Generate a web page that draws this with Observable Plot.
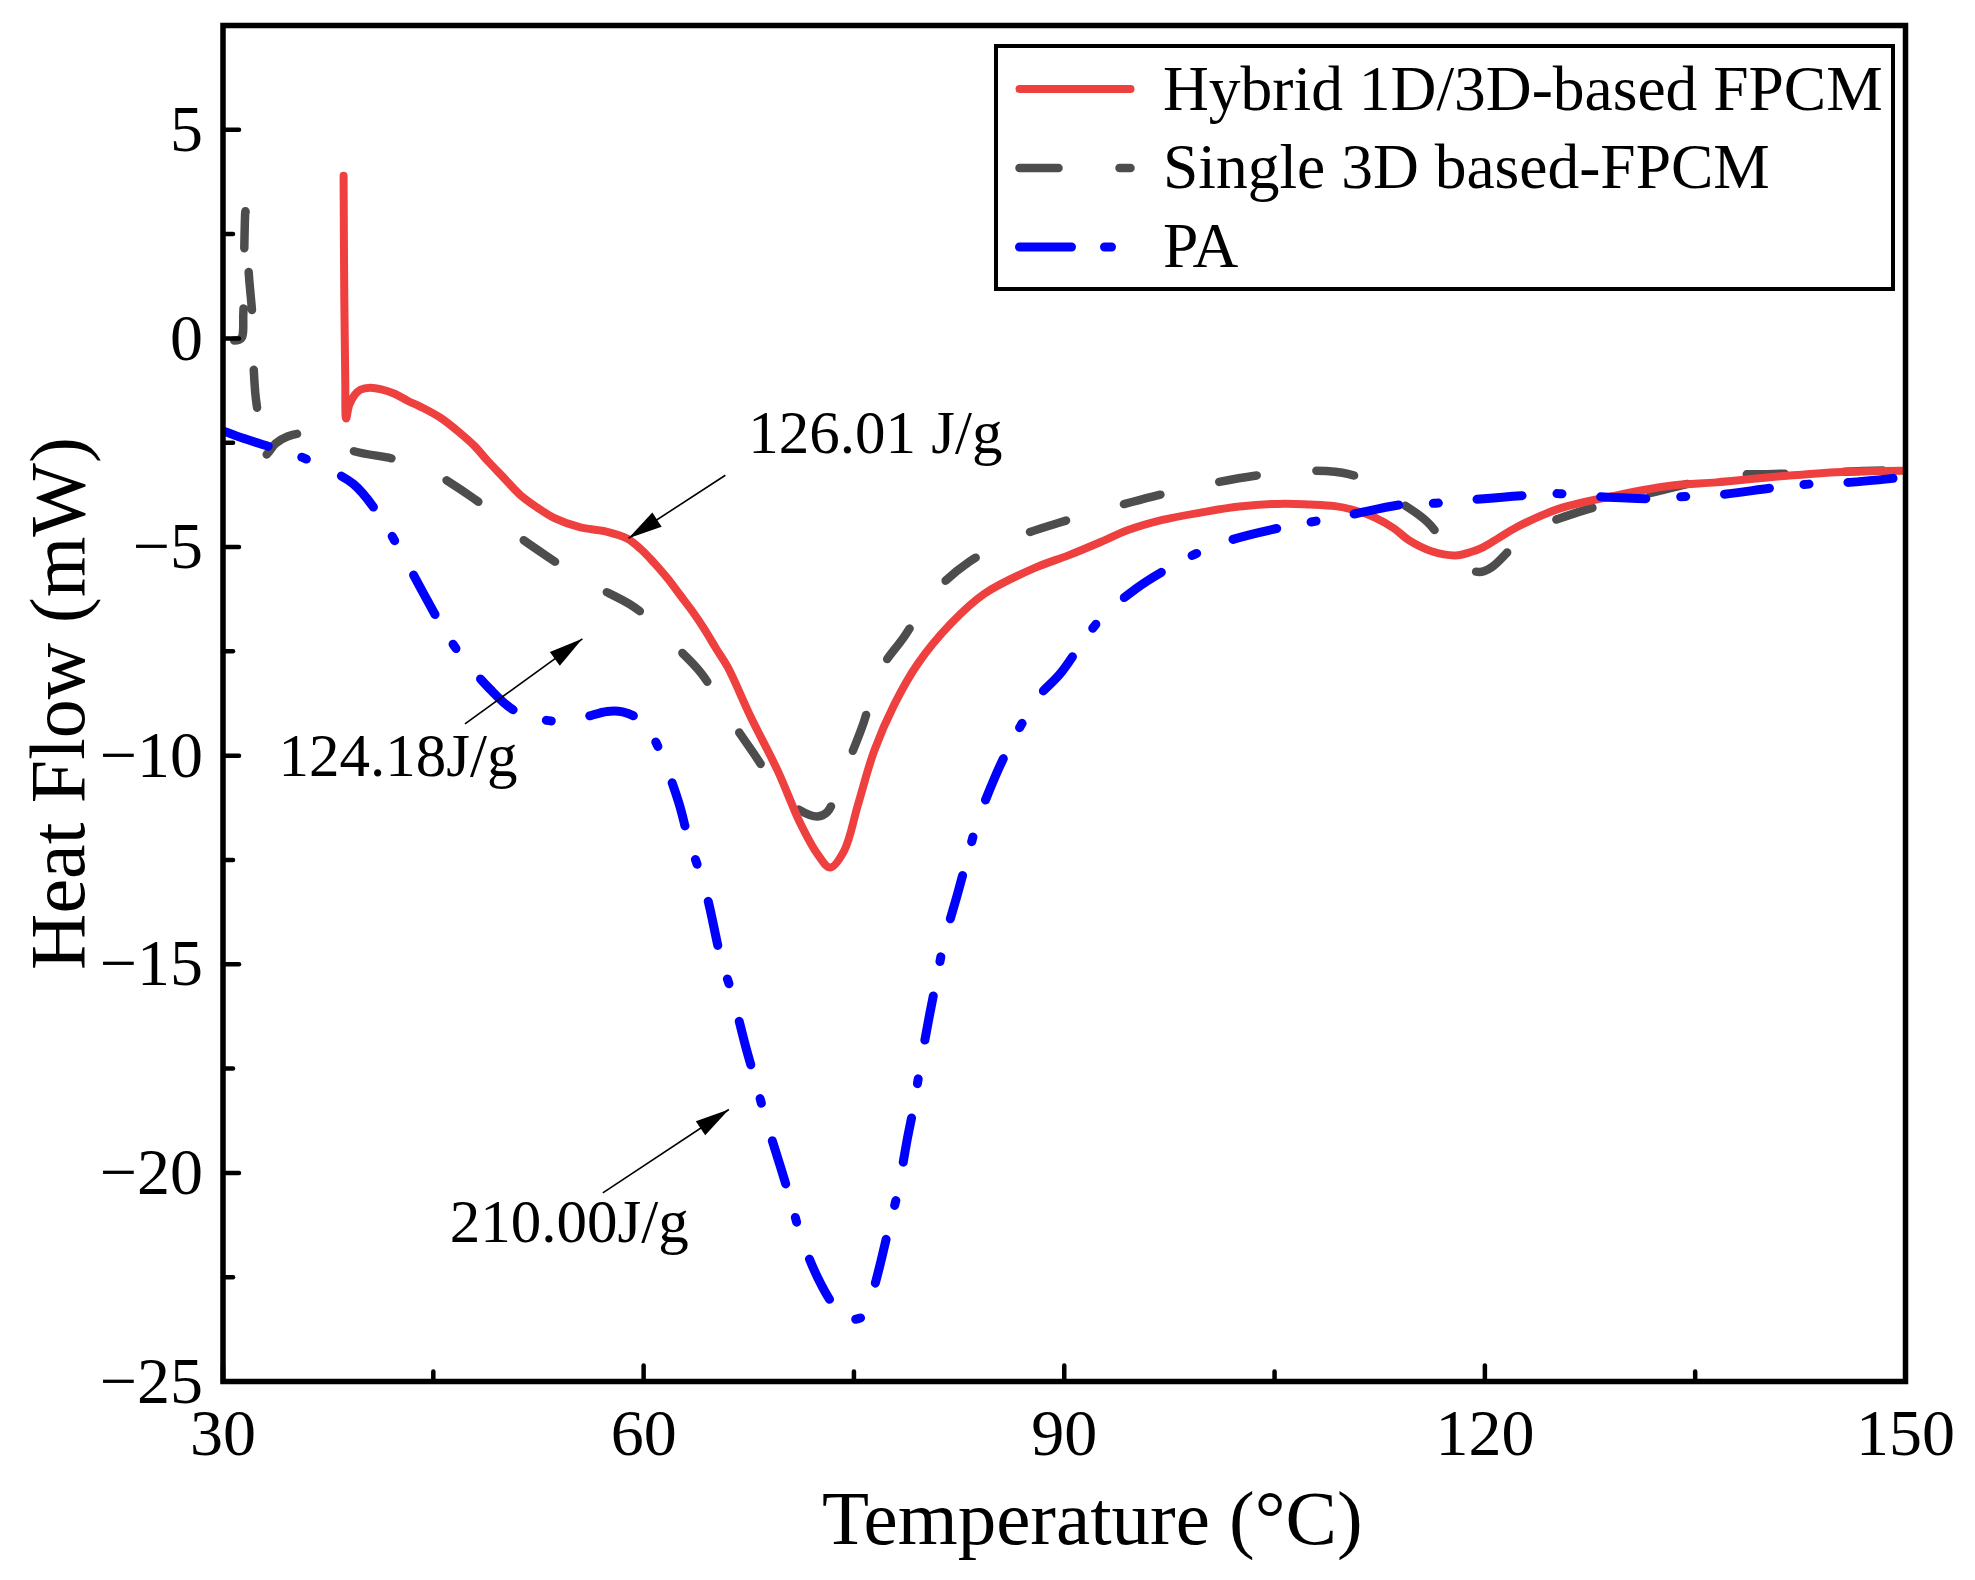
<!DOCTYPE html>
<html>
<head>
<meta charset="utf-8">
<script src="https://cdn.jsdelivr.net/npm/d3@7"></script>
<script src="https://cdn.jsdelivr.net/npm/@observablehq/plot@0.6"></script>
<style>
  body { margin: 0; background: white; }
  #chart { position: relative; width: 1975px; height: 1580px; font-family: "Liberation Serif", "Times New Roman", serif; }
  #legend { position: absolute; left: 994px; top: 44px; }
</style>
</head>
<body>
<div id="chart"></div>
<script>
// DSC curves: temperature (°C) and heat flow (mW)
const hybridT = [38.6, 38.65, 38.72, 38.78, 39.0, 39.4, 39.8, 40.5, 41.3, 42.2, 43.2, 44.1, 45.5, 46.95, 48.0, 48.86, 50.0, 51.2, 52.4, 53.6, 55.5, 57.2, 58.85, 59.8, 60.75, 61.7, 62.6, 63.5, 64.3, 65.2, 66.0, 67.65, 69.56, 71.2, 72.4, 73.3, 74.3, 75.3, 76.45, 77.9, 79.55, 81.9, 84.3, 87.9, 90.3, 92.6, 94.5, 97.0, 99.8, 102.5, 105.7, 107.5, 109.3, 110.5, 112.2, 113.5, 114.6, 116.2, 117.9, 119.0, 119.9, 121.0, 122.3, 125.3, 129.4, 133.5, 136.5, 140.9, 145.4, 149.8];
const hybridQ = [3.9, 1.0, -1.0, -1.92, -1.6, -1.35, -1.23, -1.18, -1.22, -1.32, -1.5, -1.64, -1.9, -2.28, -2.6, -2.93, -3.33, -3.75, -4.05, -4.3, -4.53, -4.62, -4.8, -5.05, -5.38, -5.75, -6.15, -6.55, -6.95, -7.45, -7.88, -9.08, -10.36, -11.64, -12.36, -12.68, -12.28, -11.16, -9.88, -8.76, -7.8, -6.84, -6.12, -5.5, -5.2, -4.88, -4.6, -4.35, -4.17, -4.03, -3.96, -3.98, -4.02, -4.1, -4.3, -4.55, -4.84, -5.1, -5.2, -5.12, -5.0, -4.78, -4.52, -4.08, -3.76, -3.52, -3.45, -3.31, -3.2, -3.17];

const singleT = [30.8, 31.3, 31.45, 31.5, 31.6, 31.7, 31.85, 32.1, 32.15, 32.3, 32.55, 32.7, 33.2, 33.75, 34.6, 35.65, 37.0, 39.3, 42.1, 44.0, 45.4, 47.9, 49.3, 50.6, 53.1, 56.1, 59.0, 60.5, 61.7, 64.1, 66.0, 67.8, 69.9, 71.1, 72.4, 73.1, 73.8, 74.55, 75.7, 76.8, 78.6, 80.7, 83.2, 86.7, 89.8, 93.3, 96.3, 100.0, 103.6, 107.1, 110.3, 112.0, 113.6, 115.9, 118.3, 119.6, 120.5, 122.0, 123.6, 126.6, 132.0, 137.4, 140.6, 145.0, 149.8];
const singleQ = [-0.05, 0.0, 0.6, 1.8, 3.05, 2.4, 1.5, 0.5, -0.4, -1.3, -2.0, -2.9, -2.75, -2.52, -2.35, -2.28, -2.4, -2.7, -2.88, -3.05, -3.29, -3.84, -4.2, -4.62, -5.22, -5.86, -6.37, -6.75, -7.19, -8.02, -9.04, -9.92, -10.95, -11.3, -11.46, -11.35, -10.85, -10.2, -9.2, -8.0, -7.14, -6.1, -5.36, -4.75, -4.4, -4.06, -3.79, -3.51, -3.29, -3.17, -3.25, -3.5, -3.85, -4.4, -5.4, -5.6, -5.48, -5.0, -4.57, -4.17, -3.69, -3.29, -3.25, -3.2, -3.15];

const paT = [30.2, 31.5, 33.0, 35.2, 37.0, 39.3, 41.0, 42.4, 44.2, 45.4, 46.7, 49.0, 50.9, 53.5, 55.5, 57.4, 58.5, 59.4, 60.3, 61.1, 62.5, 63.2, 64.0, 64.6, 65.5, 66.3, 67.3, 68.0, 68.7, 69.8, 70.5, 71.2, 72.4, 73.6, 74.6, 75.7, 76.3, 76.9, 77.5, 78.1, 78.8, 79.3, 79.7, 80.4, 80.9, 81.4, 82.4, 83.1, 83.8, 85.1, 86.3, 87.6, 88.1, 89.7, 91.1, 92.6, 95.1, 97.15, 99.4, 102.0, 105.1, 107.6, 110.2, 114.1, 116.5, 119.0, 122.6, 125.3, 127.9, 131.6, 134.3, 136.9, 140.6, 143.2, 146.0, 149.8];
const paQ = [-2.24, -2.4, -2.56, -2.79, -3.06, -3.49, -4.17, -4.94, -6.05, -6.78, -7.47, -8.39, -8.94, -9.17, -9.1, -8.94, -8.95, -9.07, -9.35, -9.84, -11.12, -12.0, -12.79, -13.48, -14.84, -15.7, -17.0, -17.83, -18.7, -19.9, -20.67, -21.5, -22.5, -23.19, -23.5, -23.43, -22.9, -22.15, -21.3, -20.5, -19.2, -18.35, -17.5, -16.2, -15.36, -14.5, -13.3, -12.44, -11.6, -10.48, -9.64, -8.88, -8.6, -8.04, -7.38, -6.72, -6.0, -5.56, -5.16, -4.82, -4.56, -4.4, -4.24, -3.98, -3.95, -3.87, -3.77, -3.72, -3.79, -3.84, -3.79, -3.74, -3.58, -3.49, -3.45, -3.33];

const seriesNames = ["Hybrid 1D/3D-based FPCM", "Single 3D based-FPCM", "PA"];

// enthalpy annotations: label anchor and arrow (from -> to)
const noteLabels = ["126.01 J/g", "124.18J/g", "210.00J/g"];
const noteX = [67.47, 33.96, 46.17];
const noteY = [-2.27, -10.03, -21.18];
const arrowFromX = [65.83, 47.26, 57.09];
const arrowFromY = [-3.28, -9.24, -20.48];
const arrowToX = [58.92, 55.63, 66.08];
const arrowToY = [-4.79, -7.2, -18.48];

const xMajor = [30, 60, 90, 120, 150];
const xMinor = [45, 75, 105, 135];
const yMajor = [5, 0, -5, -10, -15, -20, -25];
const yMinor = [2.5, -2.5, -7.5, -12.5, -17.5, -22.5];

let wChart = 1975;
let hChart = 1580;
const mLeft = 222.5, mRight = 70, mTop = 25, mBottom = 199;
const xDomain = [30, 150], yDomain = [-25, 7.5];
const kx = (wChart - mLeft - mRight) / (xDomain[1] - xDomain[0]);
const ky = (hChart - mTop - mBottom) / (yDomain[1] - yDomain[0]);

const rows = (T, Q) => T.map((t, i) => ({t, q: Q[i]}));

const notes = noteLabels.map((label, i) => ({
  label,
  x: noteX[i], y: noteY[i],
  x1: arrowFromX[i], y1: arrowFromY[i],
  x2: arrowToX[i], y2: arrowToY[i],
  angle: Math.atan2((arrowToX[i] - arrowFromX[i]) * kx, (arrowToY[i] - arrowFromY[i]) * ky) * 180 / Math.PI
}));

// plain tick stroke and filled arrow head for Plot.vector
const tickLine = {draw(ctx, l) { ctx.moveTo(0, 0); ctx.lineTo(0, -l); }};
const headHalf = 8.5;
const arrowHead = {draw(ctx, l) { ctx.moveTo(-headHalf, 0); ctx.lineTo(0, -l); ctx.lineTo(headHalf, 0); ctx.closePath(); }};

const fmtY = d => d < 0 ? "\u2212" + Math.abs(d) : String(d);

let chart = Plot.plot({
  width: wChart,
  height: hChart,
  marginLeft: mLeft,
  marginRight: mRight,
  marginTop: mTop,
  marginBottom: mBottom,
  style: {
    background: "white",
    color: "black",
    fontFamily: "Liberation Serif, Times New Roman, serif"
  },
  x: {domain: xDomain},
  y: {domain: yDomain},
  marks: [
    Plot.line(rows(singleT, singleQ), {x: "t", y: "q", stroke: "#4d4d4d", strokeWidth: 8.5, strokeDasharray: "38,60", curve: "catmull-rom"}),
    Plot.line(rows(hybridT, hybridQ), {x: "t", y: "q", stroke: "#ef4040", strokeWidth: 8, curve: "catmull-rom"}),
    Plot.line(rows(paT, paQ), {x: "t", y: "q", stroke: "#0000ff", strokeWidth: 9, strokeDasharray: "45,35,5,39", curve: "catmull-rom"}),

    Plot.link(notes, {x1: "x1", y1: "y1", x2: "x2", y2: "y2", stroke: "black", strokeWidth: 1.6}),
    Plot.vector(notes, {x: "x2", y: "y2", rotate: "angle", length: 34, anchor: "end", shape: arrowHead, fill: "black", stroke: "none"}),
    Plot.text(notes, {x: "x", y: "y", text: "label", textAnchor: "start", fontSize: 61}),

    Plot.frame({stroke: "black", strokeWidth: 5.5}),

    // inward ticks
    Plot.vector(xMajor, {x: d => d, frameAnchor: "bottom", length: 16, rotate: 0, anchor: "start", shape: tickLine, stroke: "black", strokeWidth: 4.5}),
    Plot.vector(xMinor, {x: d => d, frameAnchor: "bottom", length: 10, rotate: 0, anchor: "start", shape: tickLine, stroke: "black", strokeWidth: 4.5}),
    Plot.vector(yMajor, {y: d => d, frameAnchor: "left", length: 16, rotate: 90, anchor: "start", shape: tickLine, stroke: "black", strokeWidth: 4.5}),
    Plot.vector(yMinor, {y: d => d, frameAnchor: "left", length: 10, rotate: 90, anchor: "start", shape: tickLine, stroke: "black", strokeWidth: 4.5}),

    Plot.axisX({ticks: xMajor, tickSize: 0, tickPadding: 27, fontSize: 66, label: null, tickFormat: d => String(d)}),
    Plot.axisY({ticks: yMajor, tickSize: 0, tickPadding: 20, fontSize: 66, label: null, tickFormat: fmtY}),

    Plot.text(["Temperature (\u00b0C)"], {frameAnchor: "bottom", textAnchor: "middle", lineAnchor: "middle", dy: 138, dx: 28, fontSize: 77}),
    Plot.text(["Heat Flow (mW)"], {frameAnchor: "left", textAnchor: "middle", lineAnchor: "middle", rotate: -90, dx: -164, fontSize: 78})
  ]
});

d3.select("#chart").append(() => chart);

// legend box drawn over the upper right of the plot area
const swatches = [
  {stroke: "#ef4040", width: 8, dash: null},
  {stroke: "#4d4d4d", width: 8.5, dash: "39,61"},
  {stroke: "#0000ff", width: 9, dash: "52,33,7,33"}
];
const legend = d3.select("#chart").append("svg")
  .attr("id", "legend")
  .attr("width", 901)
  .attr("height", 247);
legend.append("rect")
  .attr("x", 2).attr("y", 2).attr("width", 897).attr("height", 243)
  .attr("fill", "white").attr("stroke", "black").attr("stroke-width", 4);
const rowMid = [45, 124, 203];
const rowBase = [66, 144, 223];
seriesNames.forEach((name, i) => {
  const s = swatches[i];
  legend.append("line")
    .attr("x1", 25.5).attr("x2", 136.5)
    .attr("y1", rowMid[i]).attr("y2", rowMid[i])
    .attr("stroke", s.stroke).attr("stroke-width", s.width)
    .attr("stroke-linecap", "round")
    .attr("stroke-dasharray", s.dash);
  legend.append("text")
    .attr("x", 169).attr("y", rowBase[i])
    .attr("font-family", "Liberation Serif, Times New Roman, serif")
    .attr("font-size", 63.5)
    .text(name);
});
</script>
</body>
</html>
